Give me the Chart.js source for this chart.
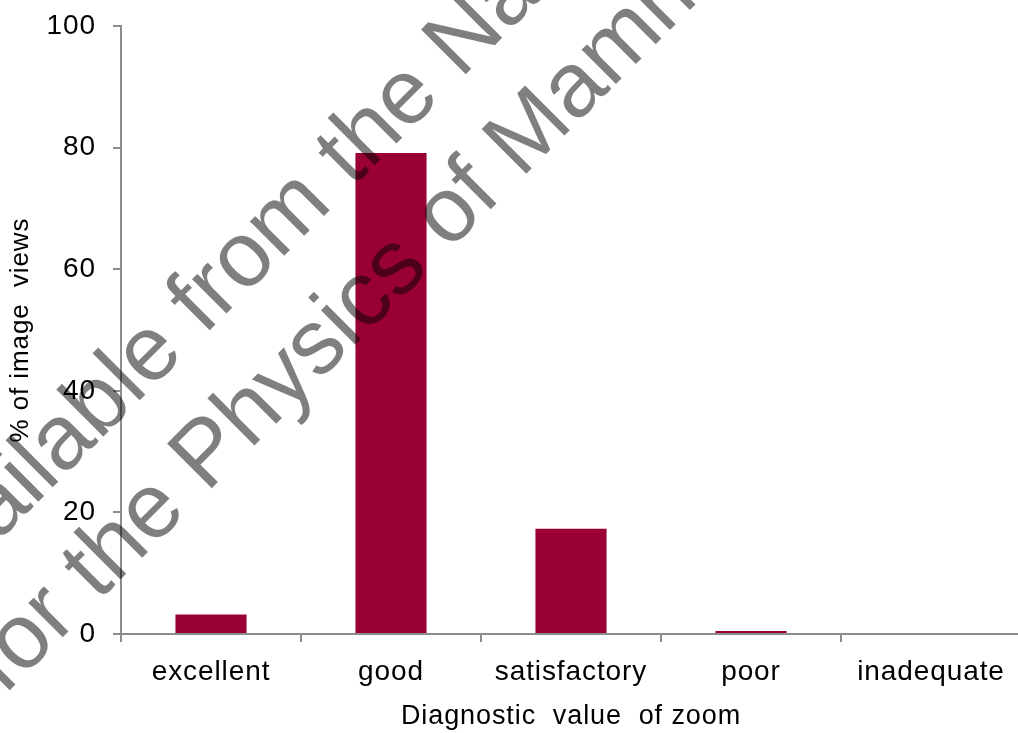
<!DOCTYPE html>
<html>
<head>
<meta charset="utf-8">
<script src="https://cdn.jsdelivr.net/npm/chart.js@4.4.1/dist/chart.umd.min.js"></script>
<style>
  html, body { margin: 0; padding: 0; background: #ffffff; overflow: hidden; }
  #wrap { position: relative; width: 1030px; height: 733px; }
</style>
</head>
<body>
<div id="wrap"><canvas id="c"></canvas></div>
<script>
const categories = ['excellent', 'good', 'satisfactory', 'poor', 'inadequate'];
const percentViews = [3.2, 79.1, 17.3, 0.5, 0];
const yTicks = [0, 20, 40, 60, 80, 100];
const xTitle = 'Diagnostic  value  of zoom';
const yTitle = '% of image  views';
const watermarkLines = [
  'Available from the National Coordinating Centre',
  'for the Physics of Mammography'
];

const FONT = '"Liberation Sans", Arial, sans-serif';
const AXIS = '#8c8c8c';

const spacingPlugin = {
  id: 'spacing',
  beforeDraw(chart) { chart.ctx.letterSpacing = '0.9px'; }
};

const watermarkPlugin = {
  id: 'watermark',
  afterDraw(chart) {
    const ctx = chart.ctx;
    ctx.save();
    ctx.letterSpacing = '0px';
    ctx.fillStyle = 'rgba(0,0,0,0.5)';
    ctx.font = '92px ' + FONT;
    ctx.textAlign = 'left';
    ctx.textBaseline = 'alphabetic';
    const starts = [[-77, 617], [4, 696]];
    watermarkLines.forEach((t, i) => {
      ctx.save();
      ctx.translate(starts[i][0], starts[i][1]);
      ctx.rotate(-Math.PI / 4);
      ctx.fillText(t, 0, 0);
      ctx.restore();
    });
    ctx.restore();
  }
};

new Chart(document.getElementById('c'), {
  type: 'bar',
  data: {
    labels: categories,
    datasets: [{
      data: percentViews,
      backgroundColor: '#990033',
      borderWidth: 0,
      categoryPercentage: 1.0,
      barPercentage: 0.395
    }]
  },
  options: {
    responsive: true,
    maintainAspectRatio: false,
    animation: false,
    layout: { padding: { top: 26, right: 9, bottom: 0, left: 0 } },
    plugins: { legend: { display: false }, tooltip: { enabled: false } },
    scales: {
      x: {
        offset: true,
        grid: { display: true, offset: true, drawOnChartArea: false, drawTicks: true, tickLength: 8, color: AXIS, lineWidth: 2 },
        border: { display: true, color: AXIS, width: 2 },
        ticks: { color: '#000', font: { family: FONT, size: 28 }, padding: 13, maxRotation: 0, autoSkip: false },
        title: { display: true, text: xTitle, color: '#000', font: { family: FONT, size: 27 }, padding: { top: 0, bottom: 0 } },
        afterFit(scale) { scale.height = 99; scale.paddingLeft = 0; scale.paddingRight = 0; }
      },
      y: {
        min: 0, max: 100,
        afterBuildTicks(scale) { scale.ticks = yTicks.map(v => ({ value: v })); },
        grid: { display: true, drawOnChartArea: false, drawTicks: true, tickLength: 8, color: AXIS, lineWidth: 2 },
        border: { display: true, color: AXIS, width: 2 },
        ticks: { color: '#000', font: { family: FONT, size: 28 }, padding: 17 },
        title: { display: true, text: yTitle, color: '#000', font: { family: FONT, size: 26 }, padding: { top: 5, bottom: 0 } },
        afterFit(scale) { scale.width = 121; scale.paddingTop = 0; scale.paddingBottom = 0; }
      }
    }
  },
  plugins: [spacingPlugin, watermarkPlugin]
});
</script>
</body>
</html>
